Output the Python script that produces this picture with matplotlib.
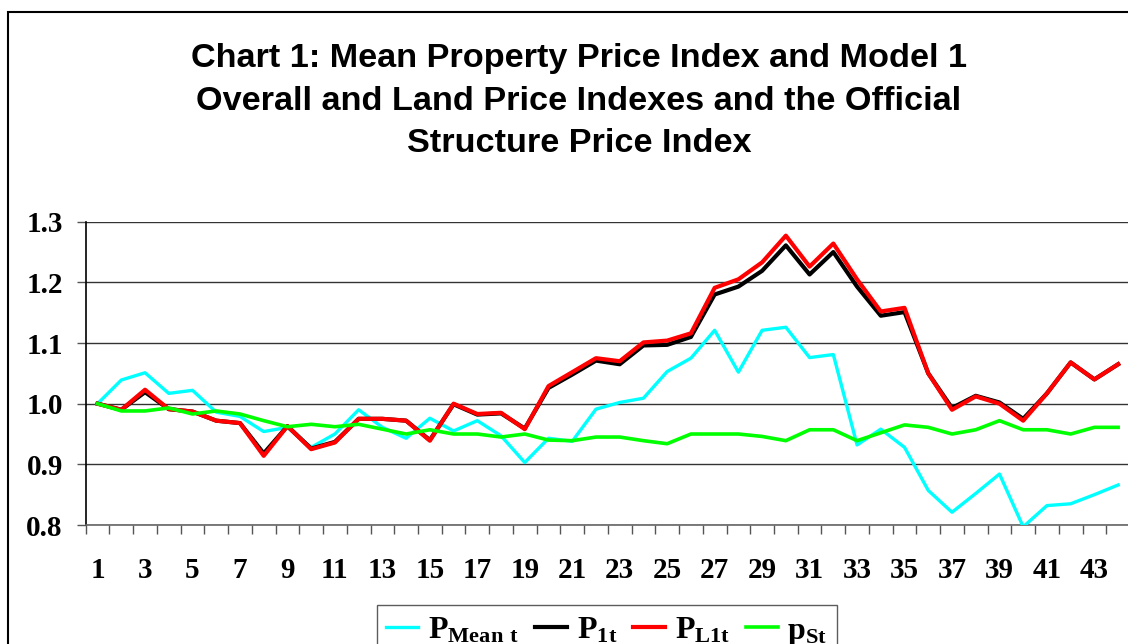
import matplotlib
matplotlib.use("Agg")
import matplotlib.pyplot as plt
from matplotlib.patches import Rectangle

periods = list(range(1, 45))
x_labels = [str(k) for k in range(1, 44, 2)]

p_mean = [1.000, 1.039, 1.051, 1.017, 1.022, 0.986, 0.979, 0.954, 0.961, 0.928,
          0.950, 0.990, 0.961, 0.943, 0.976, 0.955, 0.972, 0.947, 0.903, 0.943,
          0.938, 0.991, 1.002, 1.009, 1.053, 1.075, 1.121, 1.052, 1.121, 1.126,
          1.076, 1.081, 0.932, 0.958, 0.928, 0.857, 0.821, 0.852, 0.884, 0.797,
          0.832, 0.835, 0.850, 0.866]
p_1t = [1.000, 0.990, 1.019, 0.991, 0.987, 0.972, 0.968, 0.918, 0.963, 0.926,
        0.937, 0.975, 0.975, 0.972, 0.940, 0.999, 0.982, 0.984, 0.959, 1.026,
        1.048, 1.071, 1.065, 1.096, 1.097, 1.110, 1.180, 1.193, 1.219, 1.261,
        1.213, 1.250, 1.193, 1.145, 1.151, 1.050, 0.993, 1.013, 1.002, 0.975,
        1.017, 1.068, 1.040, 1.065]
p_l1t = [1.000, 0.990, 1.023, 0.991, 0.987, 0.972, 0.968, 0.914, 0.963, 0.925,
         0.936, 0.975, 0.975, 0.972, 0.939, 1.000, 0.983, 0.985, 0.958, 1.029,
         1.052, 1.075, 1.070, 1.101, 1.104, 1.116, 1.191, 1.205, 1.233, 1.277,
         1.226, 1.264, 1.205, 1.152, 1.158, 1.050, 0.990, 1.012, 1.000, 0.972,
         1.017, 1.068, 1.040, 1.065]
p_st = [1.000, 0.988, 0.988, 0.993, 0.983, 0.988, 0.983, 0.972, 0.962, 0.966,
        0.962, 0.966, 0.958, 0.950, 0.957, 0.950, 0.950, 0.945, 0.950, 0.940,
        0.939, 0.945, 0.945, 0.939, 0.934, 0.950, 0.950, 0.950, 0.946, 0.939,
        0.957, 0.957, 0.939, 0.952, 0.965, 0.961, 0.950, 0.957, 0.972, 0.957,
        0.957, 0.950, 0.961, 0.961]

y_ticks = [0.8, 0.9, 1.0, 1.1, 1.2, 1.3]
y_tick_labels = ["0.8", "0.9", "1.0", "1.1", "1.2", "1.3"]

title = ("Chart 1: Mean Property Price Index and Model 1\n"
         "Overall and Land Price Indexes and the Official\n"
         "Structure Price Index")

plt.rcParams['mathtext.fontset'] = 'custom'
plt.rcParams['mathtext.bf'] = 'Liberation Serif:bold'
plt.rcParams['mathtext.rm'] = 'Liberation Serif:bold'

W, H = 1128, 644
fig = plt.figure(figsize=(W / 100, H / 100), dpi=100)

# outer chart border (cropped on right/bottom)
fig.patches.append(Rectangle((8 / W, -0.05), 1.2, 1 - 12 / H + 0.05,
                             transform=fig.transFigure, fill=False,
                             edgecolor='black', lw=1.5))

left, right, top, bottom = 85.7, 1130.0, 221.7, 525.0
ax = fig.add_axes([left / W, 1 - bottom / H, (right - left) / W, (bottom - top) / H])

ax.plot(periods, p_mean, color='#00FFFF', lw=2.4, label=r'$\mathbf{P_{Mean\ t}}$', zorder=3)
ax.plot(periods, p_1t, color='black', lw=3.0, label=r'$\mathbf{P_{1t}}$', zorder=4)
ax.plot(periods, p_l1t, color='#FF0000', lw=3.0, label=r'$\mathbf{P_{L1t}}$', zorder=5)
ax.plot(periods, p_st, color='#00FF00', lw=2.6, label=r'$\mathbf{p_{St}}$', zorder=6)

ax.set_xlim(0.5, 44.5)
ax.set_ylim(0.8, 1.3)
ax.set_yticks(y_ticks)
ax.set_yticklabels(y_tick_labels)
for y in y_ticks:
    ax.axhline(y, color='#333333', lw=1.0, zorder=1)

ax.set_xticks([k + 0.5 for k in range(0, 45)])
ax.set_xticklabels([])
ax.set_xticks(list(range(1, 44, 2)), minor=True)
ax.set_xticklabels(x_labels, minor=True)
ax.tick_params(axis='x', which='major', length=6.5, width=1, color='#555555', direction='out')
ax.tick_params(axis='x', which='minor', length=0, pad=23)
ax.tick_params(axis='y', length=6.5, width=1, color='#555555', direction='out', pad=10)

for lab in ax.get_xticklabels(minor=True) + ax.get_yticklabels():
    lab.set_fontfamily('Liberation Serif')
    lab.set_fontweight('bold')
    lab.set_fontsize(21)

for s in ['top', 'right']:
    ax.spines[s].set_visible(False)
ax.spines['left'].set_color('black')
ax.spines['left'].set_linewidth(1.2)
ax.spines['bottom'].set_color('#666666')
ax.spines['bottom'].set_linewidth(1.2)

fig.text(579 / W, 1 - 101 / H, title, ha='center', va='center',
         fontsize=24.7, fontweight='bold', family='Liberation Sans', linespacing=1.5)

leg = ax.legend(loc='upper center', bbox_to_anchor=(0.499, -0.264), ncol=4,
                frameon=True, fancybox=False, edgecolor='#333333',
                fontsize=23, handlelength=1.0, handletextpad=0.3,
                columnspacing=0.5, borderpad=0.3, borderaxespad=0.0)
leg.get_frame().set_linewidth(1.0)

fig.savefig('out.png', dpi=100)
